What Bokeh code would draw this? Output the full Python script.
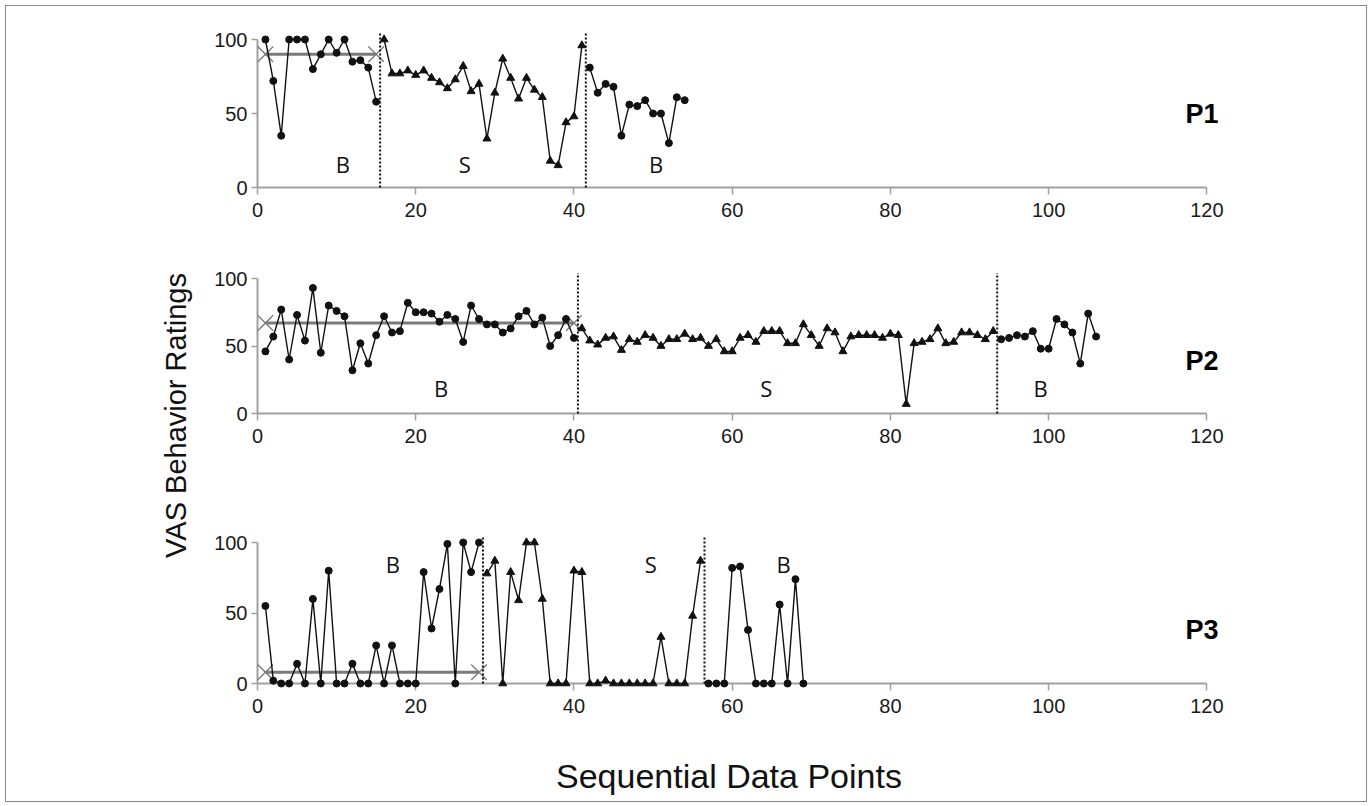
import numpy as np
from bokeh.plotting import figure
from bokeh.models import Range1d, FixedTicker, Label
from bokeh.layouts import row, column
from bokeh.embed import file_html
from bokeh.resources import INLINE

# ---------------- data ----------------
x_ticks = [0, 20, 40, 60, 80, 100, 120]
y_ticks = [0, 50, 100]

p1_base1_x = list(range(1, 16))
p1_base1_y = [100, 72, 35, 100, 100, 100, 80, 90, 100, 91, 100, 85, 86, 81, 58]
p1_sess_x = list(range(16, 42))
p1_sess_y = [100, 77, 77, 79, 76, 79, 74, 71, 67, 73, 82, 65, 70, 33, 64, 87, 74, 60, 74, 66,
             61, 18, 15, 44, 48, 96]
p1_base2_x = list(range(42, 55))
p1_base2_y = [81, 64, 70, 68, 35, 56, 55, 59, 50, 50, 30, 61, 59]
p1_phase_changes = [15.5, 41.5]
p1_phase_labels = ["B", "S", "B"]

p2_base1_x = list(range(1, 41))
p2_base1_y = [46, 57, 77, 40, 73, 54, 93, 45, 80, 76, 72, 32, 52, 37, 58, 72, 60, 61, 82, 75,
              75, 74, 68, 73, 70, 53, 80, 70, 66, 66, 60, 63, 72, 76, 66, 71, 50, 58, 70, 56]
p2_sess_x = list(range(41, 94))
p2_sess_y = [63, 54, 51, 56, 57, 47, 55, 53, 58, 56, 50, 55, 55, 59, 55, 56, 50, 55, 46, 46,
             56, 58, 53, 61, 61, 61, 52, 52, 66, 58, 50, 63, 60, 46, 57, 58, 58, 58, 56, 59,
             58, 7, 52, 53, 55, 63, 52, 53, 60, 60, 58, 55, 61]
p2_base2_x = list(range(94, 107))
p2_base2_y = [55, 56, 58, 57, 61, 48, 48, 70, 66, 60, 37, 74, 57]
p2_phase_changes = [40.5, 93.5]
p2_phase_labels = ["B", "S", "B"]

p3_base1_x = list(range(1, 29))
p3_base1_y = [55, 2, 0, 0, 14, 0, 60, 0, 80, 0, 0, 14, 0, 0, 27, 0, 27, 0, 0, 0,
              79, 39, 67, 99, 0, 100, 79, 100]
p3_sess_x = list(range(29, 57))
p3_sess_y = [78, 87, 0, 79, 59, 100, 100, 60, 0, 0, 0, 80, 79, 0, 0, 2, 0, 0, 0, 0,
             0, 0, 33, 0, 0, 0, 48, 87]
p3_base2_x = list(range(57, 70))
p3_base2_y = [0, 0, 0, 82, 83, 38, 0, 0, 0, 56, 0, 74, 0]
p3_phase_changes = [28.5, 56.5]
p3_phase_labels = ["B", "S", "B"]

# ---------------- style ----------------
TICK_FONT = "'Liberation Sans', sans-serif"
LABEL_FONT = "'Open Sans', sans-serif"
AXIS_GRAY = "#a0a0a0"
INK = "#111111"
MED_GRAY = "#7a7a7a"

X_END = 124
FRAME_W = 981
LEFT_W = 201
MBL = 50
MBR = 128


def panel(fh, top, bottom, bx1, by1, sx, sy, bx2, by2, cuts, phase_labels,
          label_pos, name, name_y):
    p = figure(frame_width=FRAME_W, frame_height=fh,
               x_range=Range1d(0, X_END), y_range=Range1d(0, 100),
               output_backend="svg", toolbar_location=None,
               min_border_left=MBL, min_border_right=MBR,
               min_border_top=top, min_border_bottom=bottom)
    p.grid.visible = False
    p.outline_line_color = None
    p.background_fill_color = "white"
    p.border_fill_color = "white"

    xa = p.xaxis[0]
    ya = p.yaxis[0]
    for ax in (xa, ya):
        ax.axis_line_color = AXIS_GRAY
        ax.axis_line_width = 2
        ax.major_tick_line_color = AXIS_GRAY
        ax.major_tick_line_width = 1.5
        ax.minor_tick_line_color = None
        ax.major_tick_in = 0
        ax.major_label_text_font = TICK_FONT
        ax.major_label_text_font_size = "20px"
        ax.major_label_text_color = "#1a1a1a"
    xa.ticker = FixedTicker(ticks=x_ticks)
    xa.bounds = (x_ticks[0], x_ticks[-1])
    xa.major_tick_out = 7
    xa.major_label_standoff = 8
    ya.ticker = FixedTicker(ticks=y_ticks)
    ya.major_tick_out = 6
    ya.major_label_standoff = 4

    # median line of first baseline
    med = float(np.median(by1))
    p.line([bx1[0], bx1[-1]], [med, med], line_color=MED_GRAY, line_width=3,
           level="overlay")
    p.scatter([bx1[0], bx1[-1]], [med, med], marker="x", size=22,
              line_color=MED_GRAY, line_width=1.3, level="overlay")

    # phase change lines
    p.segment(x0=cuts, y0=[0] * len(cuts), x1=cuts, y1=[104] * len(cuts),
              line_color=INK, line_width=2, line_dash="2 2", level="overlay")

    for xs, ys, mk, sz in ((bx1, by1, "circle", 7), (sx, sy, "triangle", 8),
                           (bx2, by2, "circle", 7)):
        p.line(xs, ys, line_color=INK, line_width=1.4, level="overlay")
        p.scatter(xs, ys, marker=mk, size=sz, fill_color=INK, line_color=INK,
                  level="overlay")

    for txt, (lx, ly) in zip(phase_labels, label_pos):
        p.add_layout(Label(x=lx, y=ly, text=txt, text_align="center",
                           text_baseline="middle", text_font=LABEL_FONT,
                           text_font_size="22px", text_color="#111111"))
    p.add_layout(Label(x=119.4, y=name_y, text=name, text_align="center",
                       text_baseline="middle", text_font=TICK_FONT,
                       text_font_style="bold", text_font_size="27px",
                       text_color="#000000"))
    return p


p1 = panel(148, 33, 42, p1_base1_x, p1_base1_y, p1_sess_x, p1_sess_y,
           p1_base2_x, p1_base2_y, p1_phase_changes, p1_phase_labels,
           [(10.8, 16), (26.2, 16), (50.4, 16)], "P1", 50)
p2 = panel(135, 49, 42, p2_base1_x, p2_base1_y, p2_sess_x, p2_sess_y,
           p2_base2_x, p2_base2_y, p2_phase_changes, p2_phase_labels,
           [(23.2, 19), (64.3, 19), (99.0, 19)], "P2", 39)
p3 = panel(141, 87, 42, p3_base1_x, p3_base1_y, p3_sess_x, p3_sess_y,
           p3_base2_x, p3_base2_y, p3_phase_changes, p3_phase_labels,
           [(17.1, 85), (49.7, 85), (66.5, 85)], "P3", 38)

# x-axis title strip
XT_W = MBL + FRAME_W + MBR
XT_H = 76
xt = figure(width=XT_W, height=XT_H, x_range=Range1d(0, XT_W), y_range=Range1d(0, XT_H),
            x_axis_type=None, y_axis_type=None, output_backend="svg",
            toolbar_location=None, min_border=0)
xt.grid.visible = False
xt.outline_line_color = None
xt.add_layout(Label(x=557, y=26, text="Sequential Data Points",
                    text_align="center", text_baseline="middle", text_font=TICK_FONT,
                    text_font_size="34px", text_color="#111111"))

# y-axis title strip
YT_H = 795
yt = figure(width=LEFT_W, height=YT_H, x_range=Range1d(0, LEFT_W), y_range=Range1d(0, YT_H),
            x_axis_type=None, y_axis_type=None, output_backend="svg",
            toolbar_location=None, min_border=0)
yt.grid.visible = False
yt.outline_line_color = None
yt.add_layout(Label(x=169, y=386, text="VAS Behavior Ratings", text_align="center",
                    text_baseline="middle", angle=90, angle_units="deg",
                    text_font="'Liberation Sans', sans-serif",
                    text_font_size="29px", text_color="#111111"))

layout = row(yt, column(p1, p2, p3, xt),
             styles={"border": "1px solid #8a8a8a", "margin": "5px"})

open("out.html", "w").write(file_html(layout, INLINE))
